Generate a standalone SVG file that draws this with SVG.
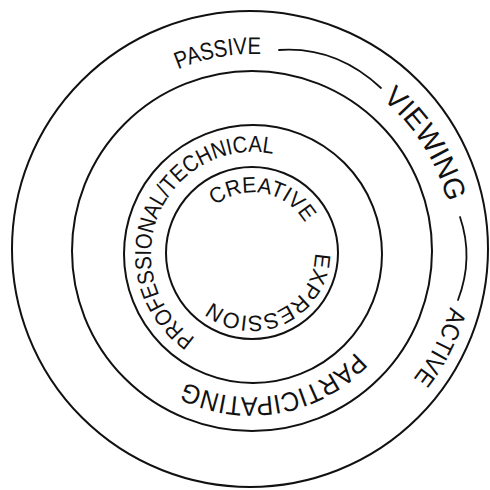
<svg xmlns="http://www.w3.org/2000/svg" xmlns:xlink="http://www.w3.org/1999/xlink" width="490" height="490" viewBox="0 0 490 490">
<style>
.ring{fill:none;stroke:#111;stroke-width:2}
.link{fill:none;stroke:#111;stroke-width:1.8;stroke-linecap:round}
.lbl{font-family:"Liberation Sans",Arial,sans-serif;fill:#111}
</style>
<defs>
<path id="pPassive" d="M178.0,69.2 A195,195 0 1 1 324.0,430.8 A195,195 0 1 1 178.0,69.2"/>
<path id="pViewing" d="M382.2,99.1 A200,200 0 1 1 119.8,400.9 A200,200 0 1 1 382.2,99.1"/>
<path id="pActive" d="M450.0,307.1 A207,207 0 1 1 52.0,192.9 A207,207 0 1 1 450.0,307.1"/>
<path id="pPartic" d="M355.6,352.0 A144,144 0 1 1 148.4,152.0 A144,144 0 1 1 355.6,352.0"/>
<path id="pProf" d="M195.2,338.1 A102,102 0 1 1 310.8,169.9 A102,102 0 1 1 195.2,338.1"/>
<path id="pCreative" d="M215.1,205.7 A60,60 0 1 1 288.9,300.3 A60,60 0 1 1 215.1,205.7"/>
<path id="pExpr" d="M315,253 A63,63 0 1 1 189,253 A63,63 0 1 1 315,253"/>
</defs>
<rect width="490" height="490" fill="#fff"/>
<g id="ring-outer">
<circle class="ring" cx="250" cy="249" r="238"/>
<text class="lbl" font-size="24"><textPath xlink:href="#pPassive" href="#pPassive" textLength="85" lengthAdjust="spacingAndGlyphs">PASSIVE</textPath></text>
<text class="lbl" font-size="29"><textPath xlink:href="#pViewing" href="#pViewing" textLength="124" lengthAdjust="spacingAndGlyphs">VIEWING</textPath></text>
<text class="lbl" font-size="25"><textPath xlink:href="#pActive" href="#pActive" textLength="81" lengthAdjust="spacingAndGlyphs">ACTIVE</textPath></text>
</g>
<g id="ring-middle">
<circle class="ring" cx="252" cy="251" r="180"/>
<text class="lbl" font-size="27"><textPath xlink:href="#pPartic" href="#pPartic" textLength="185" lengthAdjust="spacingAndGlyphs">PARTICIPATING</textPath></text>
</g>
<g id="ring-third">
<circle class="ring" cx="253" cy="254" r="129"/>
<text class="lbl" font-size="23"><textPath xlink:href="#pProf" href="#pProf" textLength="279" lengthAdjust="spacingAndGlyphs">PROFESSIONAL/TECHNICAL</textPath></text>
</g>
<g id="ring-inner">
<circle class="ring" cx="252" cy="253" r="86"/>
<text class="lbl" font-size="22"><textPath xlink:href="#pCreative" href="#pCreative" textLength="104" lengthAdjust="spacingAndGlyphs">CREATIVE</textPath></text>
<text class="lbl" font-size="22"><textPath xlink:href="#pExpr" href="#pExpr" textLength="142" lengthAdjust="spacingAndGlyphs">EXPRESSION</textPath></text>
</g>
<g id="connectors">
<path class="link" d="M279,50 Q336,46 381,88"/>
<path class="link" d="M460,217 Q474,258 458,300"/>
</g>
</svg>
